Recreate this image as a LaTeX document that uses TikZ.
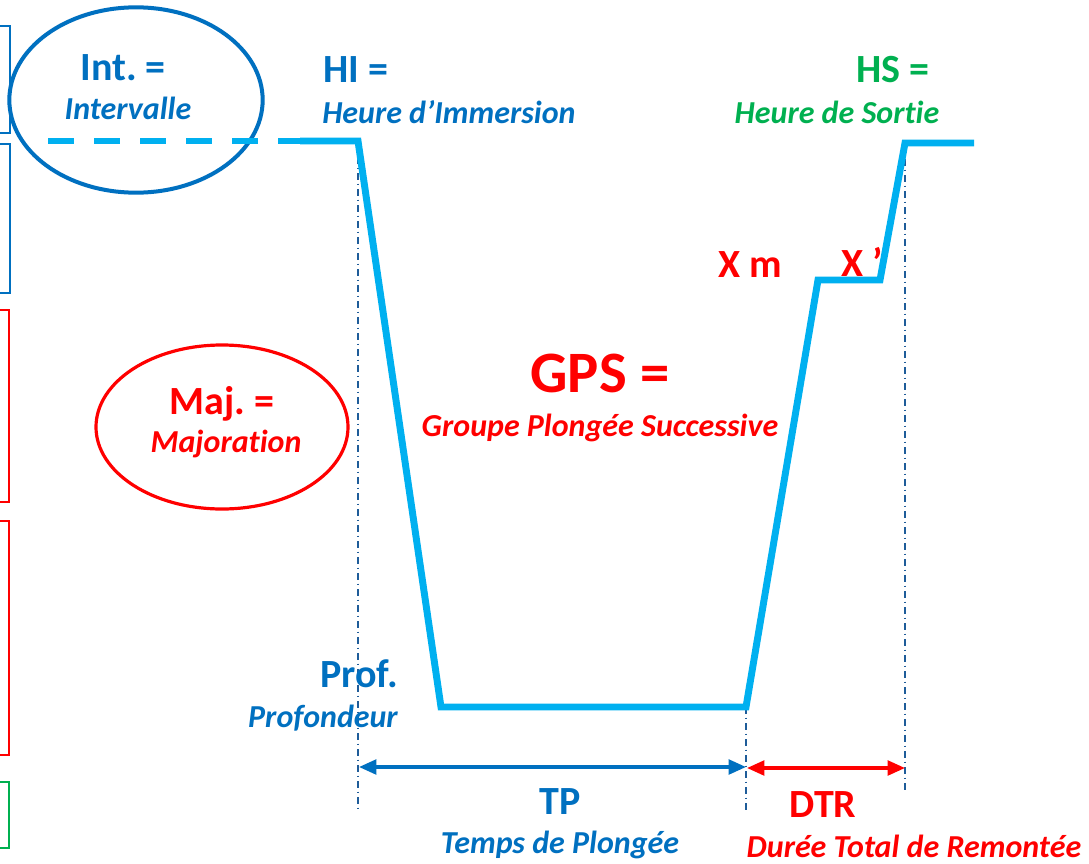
\documentclass[tikz,border=0pt]{standalone}
\usepackage{fontspec}
\setmainfont{Carlito}[Ligatures=NoCommon]
\usetikzlibrary{arrows.meta,shapes.geometric}
\definecolor{cblue}{HTML}{0070C0}
\definecolor{lblue}{HTML}{00B0F0}
\definecolor{cred}{HTML}{FF0000}
\definecolor{cgreen}{HTML}{00B050}
\definecolor{dblue}{HTML}{1F5C99}
\frenchspacing
\tikzset{
  profile/.style={lblue, line width=5.2pt, line join=miter},
  guide/.style={dblue, line width=1pt, dash pattern=on 5pt off 3pt on 1pt off 3pt},
  title/.style={font=\frenchspacing\bfseries\fontsize{30}{32}\selectfont, inner sep=0pt},
  sub/.style={font=\bfseries\itshape\fontsize{24}{26}\selectfont, inner sep=0pt},
  sidebox/.style={line width=1.2pt},
  oval/.style={ellipse, draw, inner sep=0pt},
  dim/.style={line width=2.4pt, {Triangle[length=13pt,width=11pt]}-{Triangle[length=13pt,width=11pt]}}
}
\begin{document}
\begin{tikzpicture}[x=0.75pt, y=-0.75pt]
\useasboundingbox[fill=white] (0,0) rectangle (1089,864);
% side boxes
\draw[sidebox, cblue] (-10,26) -- (10,26) -- (10,133) -- (-10,133);
\draw[sidebox, cblue] (-10,144) -- (10,144) -- (10,293) -- (-10,293);
\draw[sidebox, cred] (-10,310) -- (9,310) -- (9,502) -- (-10,502);
\draw[sidebox, cred] (-10,521) -- (9,521) -- (9,755) -- (-10,755);
\draw[sidebox, cgreen] (-10,782) -- (9,782) -- (9,848) -- (-10,848);
% ellipses
\node[oval, cblue, line width=3pt, minimum width=190pt, minimum height=139pt] (ellint) at (136,100) {};
\node[oval, cred, line width=2.4pt, minimum width=189pt, minimum height=123pt] (ellmaj) at (222,427) {};
% profile coordinates
\coordinate (d0) at (48,141);
\coordinate (hi) at (358,141);
\coordinate (d1) at (300,141);
\coordinate (bl) at (441,707);
\coordinate (br) at (746,707);
\coordinate (sl) at (818,280);
\coordinate (sr) at (880,280);
\coordinate (hs) at (905,143);
\coordinate (e) at (974,143);
% guides
\coordinate (g1b) at (358,812);
\coordinate (g2b) at (746,812);
\coordinate (g3b) at (905,792);
\draw[guide] (hi) -- (g1b);
\draw[guide] (br) -- (g2b);
\draw[guide] (hs) -- (g3b);
% profile
\draw[lblue, line width=5.2pt, dash pattern=on 19.5pt off 15pt] (d0) -- (d1);
\draw[profile] (d1) -- (hi) -- (bl) -- (br) -- (sl) -- (sr) -- (hs) -- (e);
% dimension arrows
\coordinate (tpa) at (359,767);
\coordinate (tpb) at (746,767);
\coordinate (dta) at (747,768);
\coordinate (dtb) at (905,768);
\draw[dim, cblue] (tpa) -- (tpb);
\draw[dim, cred] (dta) -- (dtb);
% texts
\node[title, cblue] (int) at (123,68) {Int. =};
\node[sub, cblue] (intv) at (128,108) {Intervalle};
\node[title, cblue, anchor=west] (hil) at (323,70) {HI =};
\node[sub, cblue, anchor=west] (hit) at (322,112) {Heure d’Immersion};
\node[title, cgreen] (hsl) at (893,70) {HS =};
\node[sub, cgreen] (hst) at (837,112) {Heure de Sortie};
\node[title, cred] (xm) at (750,265) {X m};
\node[title, cred] (xp) at (862,262) {X ’};
\node[font=\bfseries\fontsize{44}{46}\selectfont, inner sep=0pt, cred] (gps) at (600,373) {GPS =};
\node[sub, cred] (gpst) at (600,428) {Groupe Plongée Successive};
\node[title, cred] (maj) at (222,404) {Maj. =};
\node[sub, cred] (majt) at (226,444) {Majoration};
\node[title, cblue] (prof) at (359,674) {Prof.};
\node[sub, cblue] (proft) at (323,718) {Profondeur};
\node[title, cblue] (tp) at (560,802) {TP};
\node[sub, cblue] (tpt) at (560,845) {Temps de Plongée};
\node[title, cred] (dtr) at (823,805) {DTR};
\node[sub, cred] (dtrt) at (914,846) {Durée Total de Remontée};
\end{tikzpicture}
\end{document}
